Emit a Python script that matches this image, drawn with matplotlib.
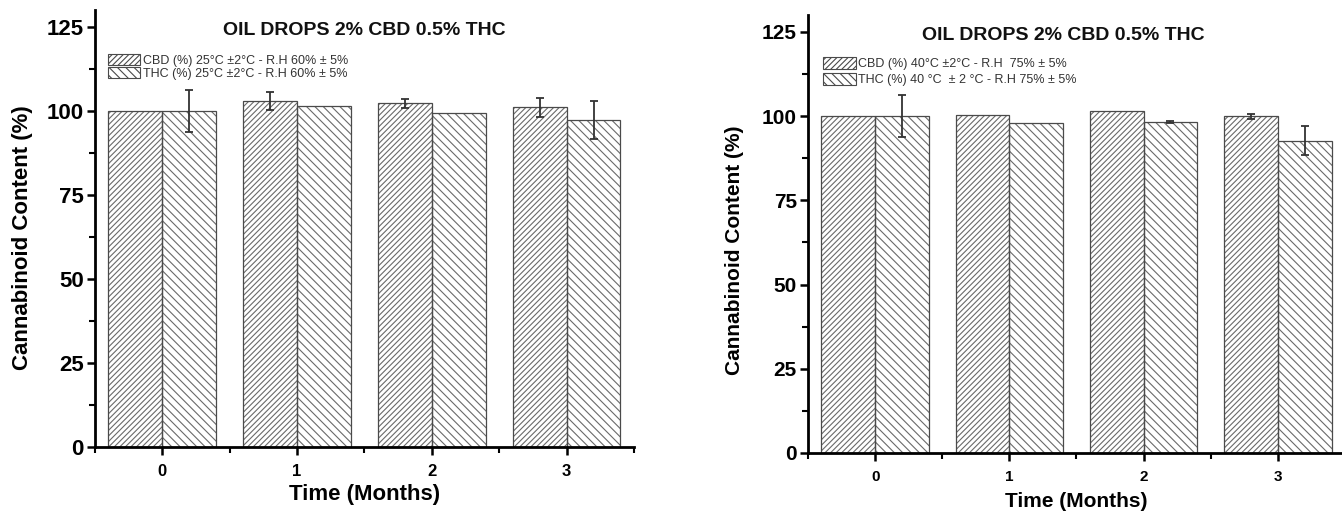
import numpy as np
import matplotlib
matplotlib.use("Agg")
import matplotlib.pyplot as plt
from matplotlib.patches import Patch
from matplotlib.ticker import MultipleLocator

# ======================================================
# DATA
# ======================================================

months = [0, 1, 2, 3]

cbd_25 = [100.0, 103.0, 102.2, 101.0]
cbd_25_err = [0.0, 2.7, 1.3, 2.7]
thc_25 = [100.0, 101.3, 99.5, 97.3]
thc_25_err = [6.3, 0.0, 0.0, 5.6]

cbd_40 = [100.1, 100.4, 101.6, 99.9]
cbd_40_err = [0.0, 0.0, 0.0, 0.8]
thc_40 = [100.0, 97.9, 98.1, 92.7]
thc_40_err = [6.1, 0.0, 0.3, 4.4]

title = "OIL DROPS 2% CBD 0.5% THC"
labels_25 = ["CBD (%) 25°C ±2°C - R.H 60% ± 5%",
             "THC (%) 25°C ±2°C - R.H 60% ± 5%"]
labels_40 = ["CBD (%) 40°C ±2°C - R.H  75% ± 5%",
             "THC (%) 40 °C  ± 2 °C - R.H 75% ± 5%"]

# ======================================================
# STYLE
# ======================================================

plt.rcParams["font.family"] = ["Liberation Sans", "DejaVu Sans"]
plt.rcParams["hatch.linewidth"] = 0.8

HATCH_COL = "#6a6a6a"
EDGE_COL = "#4a4a4a"
CBD_HATCH = "//////"
THC_HATCH = "\\\\\\\\"
W = 0.4

fig = plt.figure(figsize=(13.42, 5.18), dpi=100)

ax1 = fig.add_axes([0.0708, 0.1371, 0.4016, 0.8436])
ax2 = fig.add_axes([0.6021, 0.1255, 0.4001, 0.8456])


def draw_errors(ax, xs, vals, errs):
    # only bars that have a visible error get a whisker
    xs = np.asarray(xs)
    vals = np.asarray(vals)
    errs = np.asarray(errs)
    keep = errs > 0
    ax.errorbar(xs[keep], vals[keep], yerr=errs[keep], fmt="none",
                ecolor="#333333", elinewidth=1.3, capsize=3, capthick=1.3,
                zorder=4)


def draw_panel(ax, cbd, cbd_err, thc, thc_err, labels, tick_fs, lab_fs,
               leg_anchor, leg_spacing, title_x, ylab_xy, xlab_y):

    x = np.array(months, dtype=float)

    # hatched fill (no outline)
    ax.bar(x - W / 2, cbd, W, color="white", edgecolor=HATCH_COL,
           hatch=CBD_HATCH, linewidth=0, zorder=2)
    ax.bar(x + W / 2, thc, W, color="white", edgecolor=HATCH_COL,
           hatch=THC_HATCH, linewidth=0, zorder=2)

    # outlines
    ax.bar(x - W / 2, cbd, W, fill=False, edgecolor=EDGE_COL,
           linewidth=0.9, zorder=3)
    ax.bar(x + W / 2, thc, W, fill=False, edgecolor=EDGE_COL,
           linewidth=0.9, zorder=3)

    draw_errors(ax, x - W / 2, cbd, cbd_err)
    draw_errors(ax, x + W / 2, thc, thc_err)

    ax.set_xlim(-0.5, 3.5)
    ax.set_ylim(0, 130)

    ax.set_xticks(months)
    ax.set_yticks([0, 25, 50, 75, 100, 125])
    ax.xaxis.set_minor_locator(MultipleLocator(0.5))
    ax.yaxis.set_minor_locator(MultipleLocator(12.5))

    for s in ["top", "right"]:
        ax.spines[s].set_visible(False)
    for s in ["left", "bottom"]:
        ax.spines[s].set_linewidth(2)
        ax.spines[s].set_zorder(5)

    ax.tick_params(axis="both", which="major", direction="out",
                   length=6, width=1.8, pad=2)
    ax.tick_params(axis="both", which="minor", direction="out",
                   length=4, width=1.5)
    ax.tick_params(axis="y", labelsize=tick_fs)
    ax.tick_params(axis="x", labelsize=tick_fs - 4, pad=6)
    for t in ax.get_xticklabels() + ax.get_yticklabels():
        t.set_fontweight("bold")

    ax.set_ylabel("Cannabinoid Content (%)", fontsize=lab_fs,
                  fontweight="bold")
    ax.yaxis.set_label_coords(*ylab_xy)
    ax.set_xlabel("Time (Months)", fontsize=lab_fs, fontweight="bold")
    ax.xaxis.set_label_coords(0.5, xlab_y)

    ax.text(title_x, 124.0, title, ha="center", va="center",
            fontsize=14, fontweight="bold", color="#111111")

    handles = [
        Patch(facecolor="white", edgecolor=EDGE_COL, hatch=CBD_HATCH,
              linewidth=0.8),
        Patch(facecolor="white", edgecolor=EDGE_COL, hatch=THC_HATCH,
              linewidth=0.8),
    ]
    ax.legend(handles, labels, loc="upper left", bbox_to_anchor=leg_anchor,
              frameon=False, fontsize=9, handlelength=2.6, handleheight=1.0,
              handletextpad=0.2, labelspacing=leg_spacing, borderpad=0,
              borderaxespad=0, labelcolor="#333333")


# ======================================================
# PANELS
# ======================================================

draw_panel(ax1, cbd_25, cbd_25_err, thc_25, thc_25_err, labels_25,
           tick_fs=16, lab_fs=16, leg_anchor=(0.024, 0.900),
           leg_spacing=0.05, title_x=1.5, ylab_xy=(-0.115, 0.478),
           xlab_y=-0.085)

draw_panel(ax2, cbd_40, cbd_40_err, thc_40, thc_40_err, labels_40,
           tick_fs=15, lab_fs=15, leg_anchor=(0.028, 0.903),
           leg_spacing=0.25, title_x=1.4, ylab_xy=(-0.12, 0.463),
           xlab_y=-0.088)

plt.savefig("out.png", dpi=100)
